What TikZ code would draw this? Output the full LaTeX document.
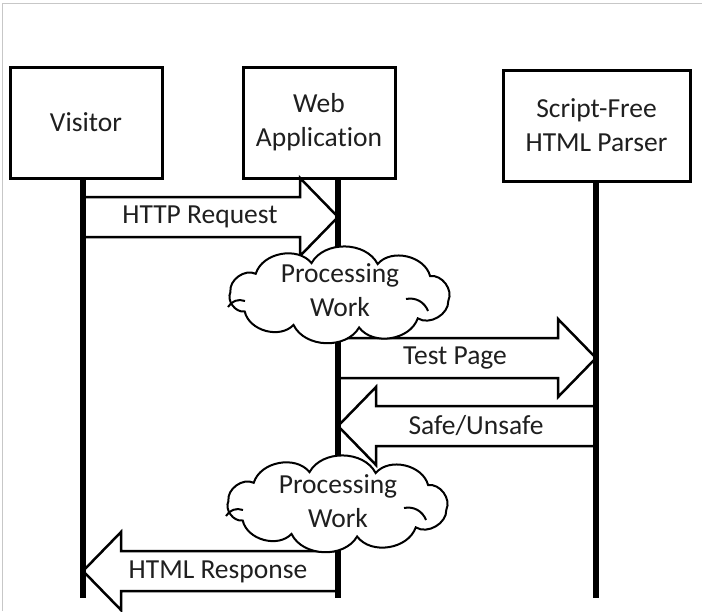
\documentclass[tikz,border=0pt]{standalone}
\usepackage{fontspec}
\setmainfont{Carlito}[Ligatures={NoCommon}]
\usetikzlibrary{calc}
\newcommand\blkarrow[3]{% #1 tail coord, #2 tip coord, #3 direction (1 right, -1 left)
  \draw[barrow] ($(#1)+(0,-20)$) -- ($(#2)+({-38*#3},-20)$) -- ($(#2)+({-38*#3},-39)$)
    -- (#2) -- ($(#2)+({-38*#3},39)$) -- ($(#2)+({-38*#3},20)$) -- ($(#1)+(0,20)$) -- cycle;}
\newcommand\puffcloud[1]{% #1 centre coordinate
  \begin{scope}[shift={(#1)}]
  \draw[cloudline] (10:110 and 33) to[bend left=62] (45:110 and 33) to[bend left=62] (80:110 and 33)
    to[bend left=62] (115:110 and 33) to[bend left=62] (150:110 and 33) to[bend left=62] (185:110 and 33)
    to[bend left=62] (220:110 and 33) to[bend left=62] (255:110 and 33) to[bend left=62] (290:110 and 33)
    to[bend left=62] (325:110 and 33) to[bend left=62] (10:110 and 33) -- cycle;
  \draw[creaseline] (66,4) to[bend left=40] (88,16);
  \draw[creaseline] (-95,6) to[bend right=40] (-112,12);
  \end{scope}}
\begin{document}
\begin{tikzpicture}[x=1pt,y=-1pt,
  txt/.style={font=\fontsize{27.5}{34}\selectfont, text=black!88},
  actor/.style={txt, draw, line width=3pt, align=center, inner sep=0pt, minimum width=152pt, minimum height=111pt},
  life/.style={line width=5.5pt},
  barrow/.style={draw, line width=2.5pt, line join=miter},
  lbl/.style={txt, inner sep=0pt, align=center},
  cloudline/.style={draw, line width=2pt, fill=white, line join=miter},
  creaseline/.style={draw, line width=2pt}
]
\useasboundingbox (0,0) rectangle (702,611);
\draw[black!22, line width=1pt] (2,611) -- (2,3) -- (702,3);

% actors
\node[actor] (vis) at (86,122.5) {Visitor};
\node[actor] (web) at (319,122.5) {Web\\Application};
\node[actor, minimum width=187pt] (par) at (596.5,125.5) {Script-Free\\HTML Parser};

% lifeline coordinates
\coordinate (vtop) at (83,178);  \coordinate (vbot) at (83,598);
\coordinate (wtop) at (338,178); \coordinate (wbot) at (338,598);
\coordinate (ptop) at (596,181); \coordinate (pbot) at (596,598);

% message anchor points
\coordinate (m1a) at (vtop |- 0,217); \coordinate (m1b) at (wtop |- 0,217);
\coordinate (m2a) at (wtop |- 0,358); \coordinate (m2b) at (ptop |- 0,358);
\coordinate (m3a) at (ptop |- 0,426); \coordinate (m3b) at (wtop |- 0,426);
\coordinate (m4a) at (wtop |- 0,571); \coordinate (m4b) at (vtop |- 0,571);

% block arrows
\blkarrow{m1a}{m1b}{1}
\blkarrow{m2a}{m2b}{1}
\blkarrow{m3a}{m3b}{-1}
\blkarrow{m4a}{m4b}{-1}

% lifelines
\draw[life] (vtop) -- (vbot);
\draw[life] (wtop) -- (wbot);
\draw[life] (ptop) -- (pbot);

% labels
\node[lbl] (l1) at (200,217) {HTTP Request};
\node[lbl] (l2) at (455,358) {Test Page};
\node[lbl] (l3) at (476,426) {Safe/Unsafe};
\node[lbl] (l4) at (218,572) {HTML Response};

% clouds
\coordinate (c1) at (340,295);
\puffcloud{c1}
\node[lbl] (t1) at (340,290) {Processing\\Work};
\coordinate (c2) at (338,504);
\puffcloud{c2}
\node[lbl] (t2) at (338,501) {Processing\\Work};
\end{tikzpicture}
\end{document}
